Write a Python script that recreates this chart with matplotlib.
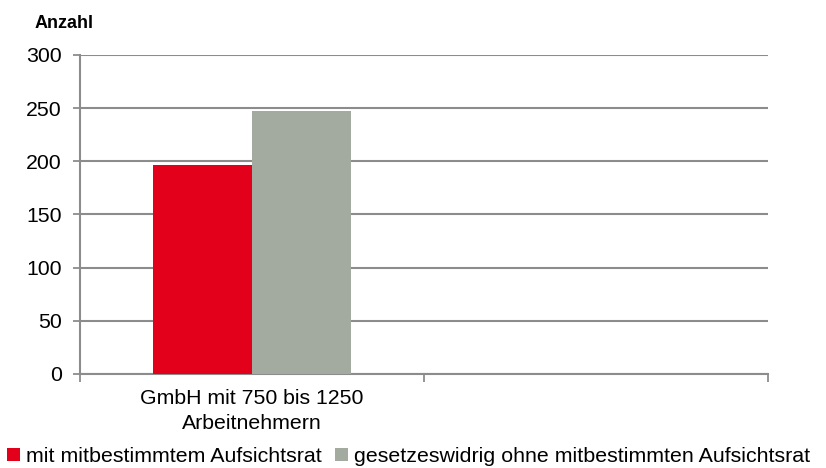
import matplotlib.pyplot as plt
import numpy as np

plt.rcParams['font.family'] = ['Liberation Sans', 'DejaVu Sans']

categories = ["GmbH mit 750 bis 1250\nArbeitnehmern", ""]
series_names = ["mit mitbestimmtem Aufsichtsrat",
                "gesetzeswidrig ohne mitbestimmten Aufsichtsrat"]
mit_ar = [197, np.nan]
ohne_ar = [247, np.nan]
colors = ["#E2001A", "#A3AA9F"]

grid_col = "#8C8C8C"

fig = plt.figure(figsize=(8.26, 4.68), dpi=100)
ax = fig.add_axes([0.0969, 0.2009, 0.8329, 0.6816])

x = np.arange(len(categories))
w = 0.288
ax.bar(x - w / 2, mit_ar, w, color=colors[0], label=series_names[0], zorder=3)
ax.bar(x + w / 2, ohne_ar, w, color=colors[1], label=series_names[1], zorder=3)

ax.set_xlim(-0.5, len(categories) - 0.5)
ax.set_ylim(0, 300)
ax.set_yticks(np.arange(0, 301, 50))
ax.yaxis.grid(True, color=grid_col, linewidth=1.5, zorder=0)

# category boundaries carry the tick marks, labels sit at the centres
ax.set_xticks(np.arange(len(categories) + 1) - 0.5)
ax.set_xticklabels([])
ax.set_xticks(x, minor=True)
ax.set_xticklabels(categories, minor=True, fontsize=15.3, linespacing=1.35)
ax.tick_params(axis='x', which='minor', length=0, pad=11)
ax.tick_params(axis='x', which='major', length=6, width=1.3, color=grid_col)
ax.tick_params(axis='y', length=5, width=1.3, color=grid_col, labelsize=15.3, pad=8)

for s in ['top', 'right']:
    ax.spines[s].set_visible(False)
for s in ['left', 'bottom']:
    ax.spines[s].set_color(grid_col)
    ax.spines[s].set_linewidth(1.5)

fig.text(0.042, 0.95, "Anzahl", fontsize=13, fontweight='bold', va='center')

fig.legend(loc='lower left', bbox_to_anchor=(0.006, 0.0), ncol=2, frameon=False,
           fontsize=15.4, handlelength=0.6, handleheight=0.6, handletextpad=0.3,
           columnspacing=0.6, borderaxespad=0.0, borderpad=0.1)

fig.savefig("out.png", dpi=100)
